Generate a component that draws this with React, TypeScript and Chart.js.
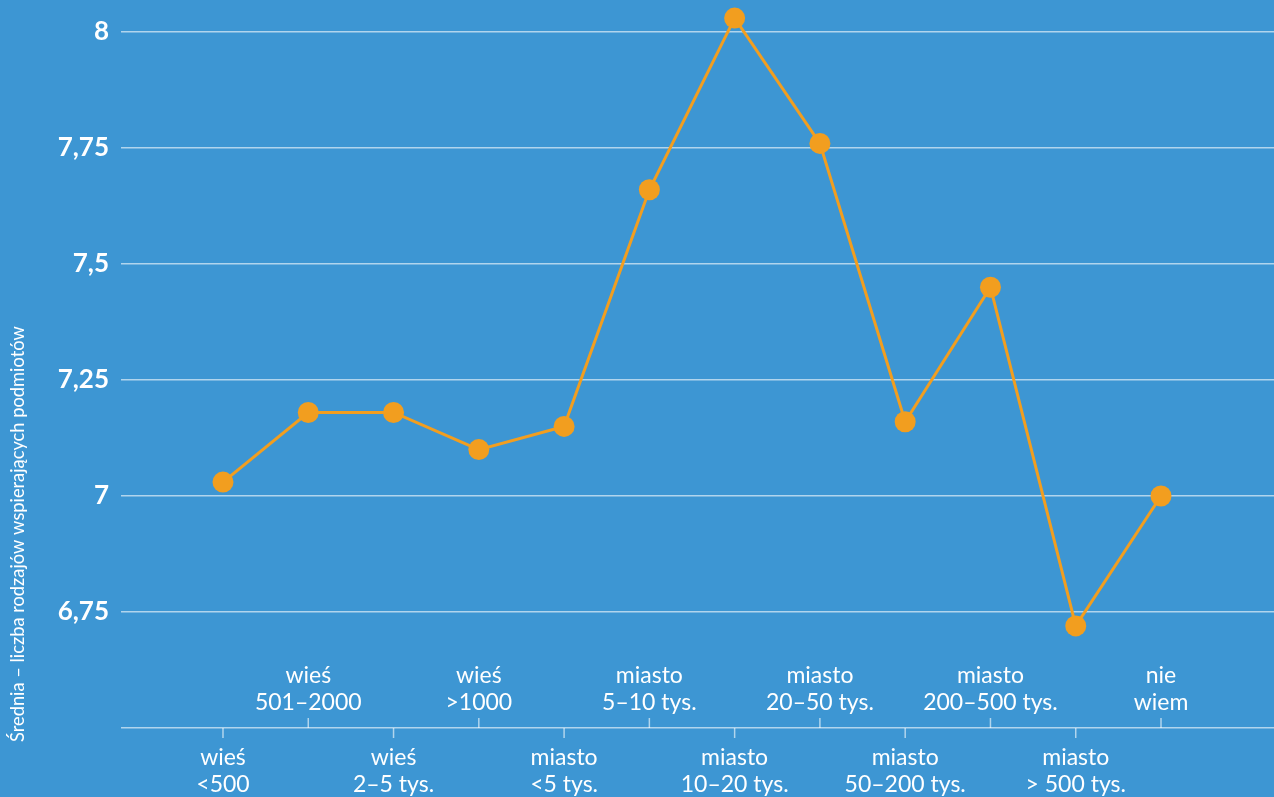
import React, { useEffect, useRef } from "react";
import { Chart, registerables } from "chart.js";

Chart.register(...registerables);

const categories: string[][] = [
  ["wieś", "<500"],
  ["wieś", "501–2000"],
  ["wieś", "2–5 tys."],
  ["wieś", ">1000"],
  ["miasto", "<5 tys."],
  ["miasto", "5–10 tys."],
  ["miasto", "10–20 tys."],
  ["miasto", "20–50 tys."],
  ["miasto", "50–200 tys."],
  ["miasto", "200–500 tys."],
  ["miasto", "> 500 tys."],
  ["nie", "wiem"],
];

const values: number[] = [7.03, 7.18, 7.18, 7.1, 7.15, 7.66, 8.03, 7.76, 7.16, 7.45, 6.72, 7.0];

const yTicks: number[] = [6.5, 6.75, 7, 7.25, 7.5, 7.75, 8];
const yTickLabels: string[] = ["", "6,75", "7", "7,25", "7,5", "7,75", "8"];

const yTitle = "Średnia – liczba rodzajów wspierających podmiotów";

const BG = "#3d96d3";
const ORANGE = "#f29e1f";
const GRID = "rgba(255,255,255,0.6)";
const FONT = "Lato, 'Open Sans', sans-serif";

export default function App() {
  const ref = useRef<HTMLCanvasElement | null>(null);

  useEffect(() => {
    document.body.style.margin = "0";
    const canvas = ref.current;
    if (!canvas) return;

    const labelsPlugin = {
      id: "customLabels",
      afterDraw(chart: any) {
        const ctx = chart.ctx;
        const xs = chart.scales.x;
        const area = chart.chartArea;
        ctx.save();
        ctx.strokeStyle = GRID;
        ctx.lineWidth = 1.5;
        ctx.fillStyle = "#ffffff";
        ctx.font = `23px ${FONT}`;
        ctx.textAlign = "center";
        ctx.textBaseline = "alphabetic";
        categories.forEach((lines, i) => {
          const px = xs.getPixelForValue(i);
          const lower = i % 2 === 0;
          ctx.beginPath();
          if (lower) {
            ctx.moveTo(px, area.bottom);
            ctx.lineTo(px, area.bottom + 10);
          } else {
            ctx.moveTo(px, area.bottom - 10);
            ctx.lineTo(px, area.bottom);
          }
          ctx.stroke();
          const base = lower ? area.bottom + 37 : area.bottom - 45;
          lines.forEach((t, j) => ctx.fillText(t, px, base + j * 27));
        });
        // y axis title
        ctx.translate(24, 742);
        ctx.rotate(-Math.PI / 2);
        ctx.textAlign = "left";
        ctx.font = `400 18.3px ${FONT}`;
        ctx.fillText(yTitle, 0, 0);
        ctx.restore();
      },
    };

    const chart = new Chart(canvas, {
      type: "line",
      data: {
        datasets: [
          {
            data: values.map((v, i) => ({ x: i, y: v })),
            borderColor: ORANGE,
            backgroundColor: ORANGE,
            borderWidth: 3,
            pointRadius: 10.5,
            pointBorderWidth: 0,
            pointBackgroundColor: ORANGE,
            pointHoverRadius: 10.5,
            clip: false as any,
            tension: 0,
          },
        ],
      },
      options: {
        animation: false,
        responsive: false,
        layout: { autoPadding: false, padding: { top: 4.2, right: 0, left: 0, bottom: 0 } },
        plugins: {
          legend: { display: false },
          tooltip: { enabled: false },
        },
        scales: {
          x: {
            type: "linear",
            min: -1.196,
            max: 12.325,
            grid: { display: false },
            border: { display: false },
            ticks: { display: false },
            afterFit: (s: any) => {
              s.height = 69;
              s.paddingLeft = 0;
              s.paddingRight = 0;
            },
          },
          y: {
            min: 6.5,
            max: 8.06,
            afterBuildTicks: (s: any) => {
              s.ticks = yTicks.map((v) => ({ value: v }));
            },
            afterFit: (s: any) => {
              s.width = 121;
              s.paddingTop = 0;
              s.paddingBottom = 0;
            },
            grid: { color: GRID, lineWidth: 1.5, drawTicks: false },
            border: { display: false },
            ticks: {
              padding: 12,
              color: "#ffffff",
              font: { family: FONT, size: 26, weight: "bold" },
              callback: (v: any) => {
                const idx = yTicks.indexOf(Number(v));
                return idx >= 0 ? yTickLabels[idx] : "";
              },
            },
          },
        },
      },
      plugins: [labelsPlugin],
    });

    return () => chart.destroy();
  }, []);

  return (
    <div
      style={{
        position: "fixed",
        left: 0,
        top: 0,
        width: 1274,
        height: 797,
        background: BG,
      }}
    >
      <canvas ref={ref} width={1274} height={797} />
    </div>
  );
}
